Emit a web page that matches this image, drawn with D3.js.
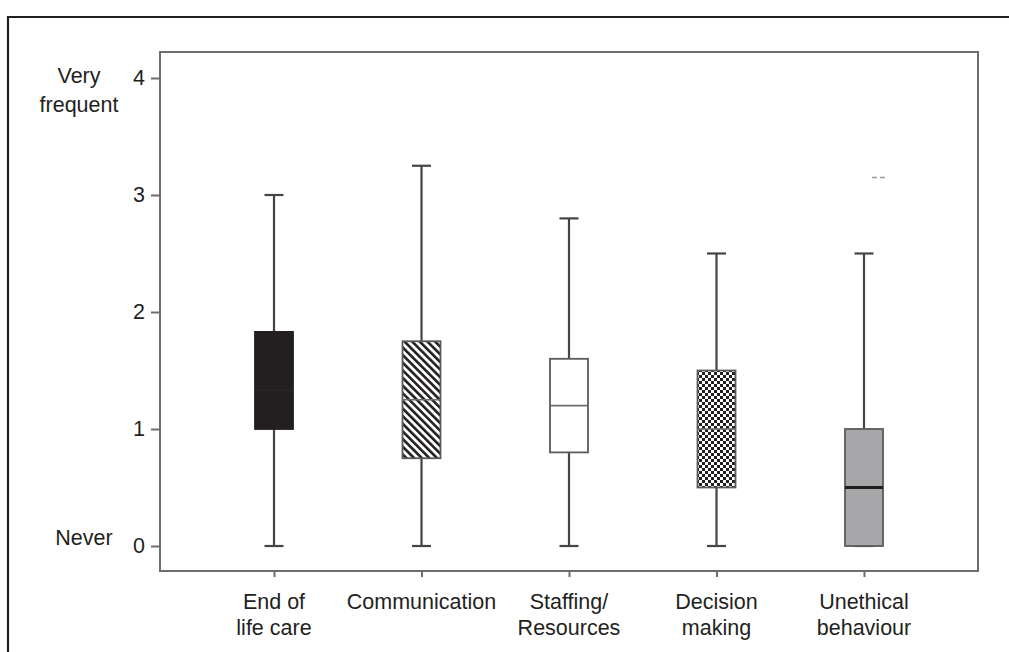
<!DOCTYPE html>
<html><head><meta charset="utf-8">
<script src="https://cdn.jsdelivr.net/npm/d3@7"></script>
<style>body{margin:0;background:#fff}svg{display:block}text{font-family:"Liberation Sans",Arial,sans-serif;fill:#231f20}</style>
</head><body><svg id="c" width="1009" height="652"></svg>
<script>
const categories = [["End of","life care"],["Communication"],["Staffing/","Resources"],["Decision","making"],["Unethical","behaviour"]];
const mins    = [0, 0, 0, 0, 0];
const q1s     = [1.0, 0.75, 0.8, 0.5, 0];
const medians = [1.33, 1.25, 1.2, 1.0, 0.5];
const q3s     = [1.83, 1.75, 1.6, 1.5, 1.0];
const maxs    = [3.0, 3.25, 2.8, 2.5, 2.5];
const outlierValues = [null, null, null, null, 3.15];
const yTicks = [0, 1, 2, 3, 4];
const yEndLabels = [["Very","frequent"],["Never"]];
const fills = ["dark", "hatch", "white", "check", "gray"];

const svg = d3.select("#c");
const W = 1009, H = 652;
const plot = {l:160, t:52, r:978, b:571};
const FS = 21.5;

// outer frame
svg.append("path").attr("d", `M8,${H} L8,17 L${W},17`).attr("fill","none").attr("stroke","#231f20").attr("stroke-width",2.2);

const defs = svg.append("defs");
const hp = defs.append("pattern").attr("id","hatch").attr("patternUnits","userSpaceOnUse")
  .attr("width",5.4).attr("height",5.4).attr("patternTransform","rotate(-45)");
hp.append("rect").attr("width",5.4).attr("height",5.4).attr("fill","#fff");
hp.append("rect").attr("x",0).attr("width",2.6).attr("height",5.4).attr("fill","#231f20");
const cp = defs.append("pattern").attr("id","check").attr("patternUnits","userSpaceOnUse")
  .attr("width",6).attr("height",6);
cp.append("rect").attr("width",6).attr("height",6).attr("fill","#fff");
cp.append("rect").attr("width",3).attr("height",3).attr("fill","#231f20");
cp.append("rect").attr("x",3).attr("y",3).attr("width",3).attr("height",3).attr("fill","#231f20");

const fillMap = {dark:"#231f20", hatch:"url(#hatch)", white:"#fff", check:"url(#check)", gray:"#a7a7a9"};

const y = d3.scaleLinear().domain([0,4]).range([546, 78]);
const keys = categories.map(d => d.join(" "));
const x = d3.scalePoint().domain(keys).range([274, 864]);

// plot frame
svg.append("rect").attr("x",plot.l).attr("y",plot.t).attr("width",plot.r-plot.l).attr("height",plot.b-plot.t)
  .attr("fill","none").attr("stroke","#6d6d6f").attr("stroke-width",2);

// y axis
const yAxis = d3.axisLeft(y).tickValues(yTicks).tickSize(9).tickPadding(6).tickFormat(d3.format("d"));
const ga = svg.append("g").attr("transform",`translate(${plot.l},0)`).call(yAxis);
ga.select(".domain").remove();
ga.selectAll(".tick line").attr("stroke","#6d6d6f").attr("stroke-width",2);
ga.selectAll(".tick text").attr("font-size",FS).style("fill","#231f20").style("font-family","'Liberation Sans',Arial,sans-serif");

// x axis
const xAxis = d3.axisBottom(x).tickSize(6).tickFormat("");
const gx = svg.append("g").attr("transform",`translate(0,${plot.b})`).call(xAxis);
gx.select(".domain").remove();
gx.selectAll(".tick line").attr("stroke","#6d6d6f").attr("stroke-width",2);
categories.forEach((lines,i) => {
  const t = svg.append("text").attr("x", x(keys[i])).attr("y", 609).attr("text-anchor","middle").attr("font-size",FS);
  lines.forEach((ln,j) => t.append("tspan").attr("x", x(keys[i])).attr("dy", j===0?0:26).text(ln));
});

// y end labels
svg.append("text").attr("x",79).attr("y",83).attr("text-anchor","middle").attr("font-size",FS)
  .selectAll("tspan").data(yEndLabels[0]).join("tspan").attr("x",79).attr("dy",(d,i)=>i?29:0).text(d=>d);
svg.append("text").attr("x",84).attr("y",y(0)-1).attr("text-anchor","middle").attr("font-size",FS).text(yEndLabels[1][0]);

// boxes
const bw = 38, cap = 19;
keys.forEach((k,i) => {
  const cx = x(k);
  const g = svg.append("g");
  const wc = "#444446";
  g.append("line").attr("x1",cx).attr("x2",cx).attr("y1",y(maxs[i])).attr("y2",y(q3s[i])).attr("stroke",wc).attr("stroke-width",2.2);
  g.append("line").attr("x1",cx).attr("x2",cx).attr("y1",y(q1s[i])).attr("y2",y(mins[i])).attr("stroke",wc).attr("stroke-width",2.2);
  g.append("line").attr("x1",cx-cap/2).attr("x2",cx+cap/2).attr("y1",y(maxs[i])).attr("y2",y(maxs[i])).attr("stroke",wc).attr("stroke-width",2.2);
  g.append("line").attr("x1",cx-cap/2).attr("x2",cx+cap/2).attr("y1",y(mins[i])).attr("y2",y(mins[i])).attr("stroke",wc).attr("stroke-width",2.2);
  g.append("rect").attr("x",cx-bw/2).attr("y",y(q3s[i])).attr("width",bw).attr("height",y(q1s[i])-y(q3s[i]))
    .attr("fill",fillMap[fills[i]]).attr("stroke", fills[i]==="dark"?"#231f20":"#5a5a5c").attr("stroke-width",1.8);
  const mw = fills[i]==="gray" ? 3 : 1.6;
  const mc = fills[i]==="gray" ? "#231f20" : (fills[i]==="dark" ? "#2a2628" : "#6d6d6f");
  g.append("line").attr("x1",cx-bw/2).attr("x2",cx+bw/2).attr("y1",y(medians[i])).attr("y2",y(medians[i]))
    .attr("stroke",mc).attr("stroke-width",mw);
  if (outlierValues[i] != null) {
    g.append("line").attr("x1",cx+8).attr("x2",cx+22).attr("y1",y(outlierValues[i])).attr("y2",y(outlierValues[i]))
      .attr("stroke","#9a9a9c").attr("stroke-width",1.5).attr("stroke-dasharray","5,3");
  }
});
</script></body></html>
